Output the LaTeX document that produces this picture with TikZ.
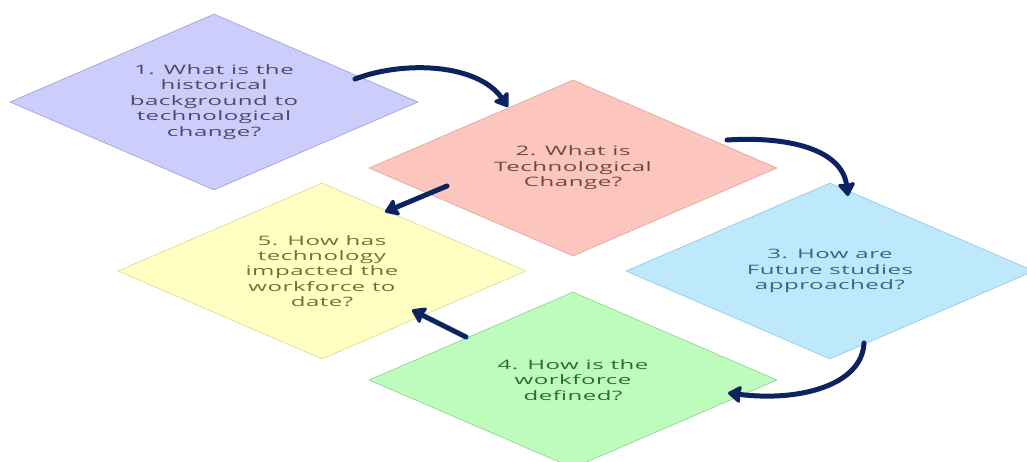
\documentclass[tikz,border=0pt]{standalone}
\usepackage{fontspec}
\setmainfont{Open Sans}[FakeStretch=1.85, LetterSpace=4]
\usetikzlibrary{shapes.geometric, arrows.meta}

\definecolor{lilacfill}{HTML}{CDCDFC}
\definecolor{lilacline}{HTML}{9C9CD8}
\definecolor{lilactext}{HTML}{4A4A6C}
\definecolor{salmonfill}{HTML}{FCC6BE}
\definecolor{salmonline}{HTML}{E0A096}
\definecolor{salmontext}{HTML}{74463F}
\definecolor{skyfill}{HTML}{BEE8FC}
\definecolor{skyline}{HTML}{90C6E0}
\definecolor{skytext}{HTML}{3A667E}
\definecolor{lemonfill}{HTML}{FFFFC2}
\definecolor{lemonline}{HTML}{D8D894}
\definecolor{lemontext}{HTML}{717136}
\definecolor{mintfill}{HTML}{BEFCBE}
\definecolor{mintline}{HTML}{90D090}
\definecolor{minttext}{HTML}{2F6A2F}
\definecolor{navy}{HTML}{0B2461}

\tikzset{
  question/.style={diamond, aspect=2.32, draw, line width=0.6pt, inner sep=0pt,
    minimum width=408pt, minimum height=176pt, align=center,
    font=\fontsize{13}{15.4}\selectfont},
  flow/.style={draw=navy, line width=5pt, line cap=round,
    -{Stealth[length=15pt, width=20pt, inset=2pt, round]}},
}

\begin{document}
\begin{tikzpicture}[x=1pt, y=-1pt]
  \useasboundingbox (0,0) rectangle (1027,461);

  % the five question diamonds
  \node[question, fill=lilacfill, draw=lilacline, text=lilactext] (q1) at (214,102)
    {1. What is the\\historical\\background to\\technological\\change?};
  \node[question, fill=salmonfill, draw=salmonline, text=salmontext] (q2) at (573,168)
    {2. What is\\Technological\\Change?};
  \node[question, fill=skyfill, draw=skyline, text=skytext] (q3) at (830,271)
    {3. How are\\Future studies\\approached?};
  \node[question, fill=lemonfill, draw=lemonline, text=lemontext] (q5) at (322,271)
    {5. How has\\technology\\impacted the\\workforce to\\date?};
  \node[question, fill=mintfill, draw=mintline, text=minttext] (q4) at (573,380)
    {4. How is the\\workforce\\defined?};

  % connector end points
  \coordinate (a1s) at (355,79);   \coordinate (a1e) at (508,107);
  \coordinate (a2s) at (727,140);  \coordinate (a2e) at (848,196);
  \coordinate (a3s) at (864,343);  \coordinate (a3e) at (728,393);
  \coordinate (a4s) at (466,337);  \coordinate (a4e) at (412,310);
  \coordinate (a5s) at (447,186);  \coordinate (a5e) at (385,212);

  % connectors
  \draw[flow] (a1s) .. controls (405,60) and (478,64) .. (a1e);
  \draw[flow] (a2s) .. controls (790,136) and (842,150) .. (a2e);
  \draw[flow] (a3s) .. controls (862,385) and (800,402) .. (a3e);
  \draw[flow] (a4s) -- (a4e);
  \draw[flow] (a5s) -- (a5e);
\end{tikzpicture}
\end{document}
